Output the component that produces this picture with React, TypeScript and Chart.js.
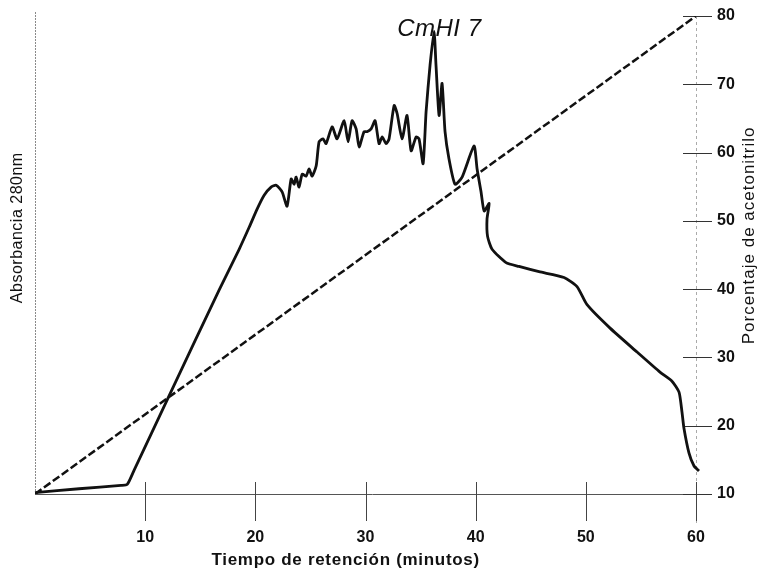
import React, { useEffect, useRef } from 'react';
import { Chart, registerables } from 'chart.js';

Chart.register(...registerables);

const TITLE = 'CmHI 7';
const X_TITLE = 'Tiempo de retención (minutos)';
const Y_LEFT_TITLE = 'Absorbancia 280nm';
const Y_RIGHT_TITLE = 'Porcentaje de acetonitrilo';

const X_TICKS = [10, 20, 30, 40, 50, 60];
const PCT_TICKS = [10, 20, 30, 40, 50, 60, 70, 80];

// Chromatogram (absorbance, arbitrary units 0..1)
const TIME = [
  0, 4.0, 7.8, 8.37, 9.0, 12.18, 16.72, 18.53, 19.44, 20.16, 20.8, 21.43, 21.89, 22.43, 22.88,
  23.25, 23.52, 23.7, 23.97, 24.25, 24.61, 24.88, 25.15, 25.52, 25.79, 26.15, 26.42,
  26.97, 27.42, 28.06, 28.42, 28.78, 29.15, 29.42, 29.87, 30.14, 30.51, 30.87, 31.23,
  31.51, 31.87, 32.14, 32.6, 32.87, 33.32, 33.77, 34.14, 34.59, 34.86, 35.23, 35.5,
  35.86, 36.22, 36.4, 36.68, 36.95, 37.22, 37.58, 38.13, 38.77, 39.85, 40.13, 40.49,
  40.77, 41.22, 41.03, 41.08, 41.49, 42.76, 43.93, 45.75, 48.02, 49.2, 50.11, 52.2,
  54.65, 56.73, 57.82, 58.46, 58.73, 58.91, 59.36, 59.81, 60.27,
];
const ABSORBANCE = [
  0.003, 0.011, 0.018, 0.02, 0.05, 0.206, 0.427, 0.512, 0.558, 0.596, 0.625, 0.642, 0.646, 0.632, 0.602,
  0.659, 0.648, 0.663, 0.642, 0.669, 0.665, 0.68, 0.665, 0.686, 0.737, 0.743, 0.733,
  0.768, 0.743, 0.781, 0.737, 0.781, 0.764, 0.726, 0.758, 0.758, 0.764, 0.781, 0.733,
  0.747, 0.733, 0.743, 0.813, 0.796, 0.743, 0.792, 0.718, 0.747, 0.743, 0.691, 0.8,
  0.897, 0.968, 0.897, 0.792, 0.859, 0.758, 0.701, 0.648, 0.663, 0.728, 0.68, 0.632,
  0.592, 0.608, 0.575, 0.539, 0.512, 0.484, 0.476, 0.465, 0.453, 0.434, 0.396, 0.347,
  0.297, 0.255, 0.236, 0.213, 0.171, 0.137, 0.086, 0.059, 0.048,
];

// Acetonitrile gradient (%)
const GRADIENT_TIME = [0, 60];
const GRADIENT_PCT = [10, 80];

const TITLE_TIME = 36.7;
const FONT = '"Liberation Sans", Arial, Helvetica, sans-serif';

export default function App() {
  const canvasRef = useRef<HTMLCanvasElement>(null);

  useEffect(() => {
    if (!canvasRef.current) return;

    const decor = {
      id: 'decor',
      beforeDatasetsDraw(chart: any) {
        const { ctx, chartArea } = chart;
        const x = chart.scales.x;
        const y1 = chart.scales.y1;
        ctx.save();
        ctx.lineWidth = 1;
        // left axis line
        ctx.strokeStyle = '#8a8a8a';
        ctx.setLineDash([2, 1]);
        ctx.beginPath();
        ctx.moveTo(Math.round(chartArea.left) + 0.5, chartArea.top - 4);
        ctx.lineTo(Math.round(chartArea.left) + 0.5, chartArea.bottom);
        ctx.stroke();
        // right axis line
        ctx.strokeStyle = '#aaaaaa';
        ctx.setLineDash([3, 3]);
        ctx.beginPath();
        ctx.moveTo(Math.round(chartArea.right) + 0.5, chartArea.top);
        ctx.lineTo(Math.round(chartArea.right) + 0.5, chartArea.bottom + 29);
        ctx.stroke();
        // bottom axis line
        ctx.setLineDash([]);
        ctx.strokeStyle = '#555555';
        ctx.beginPath();
        ctx.moveTo(chartArea.left, Math.round(chartArea.bottom) + 0.5);
        ctx.lineTo(chartArea.right + 14, Math.round(chartArea.bottom) + 0.5);
        ctx.stroke();
        // x tick marks crossing the axis
        ctx.strokeStyle = '#444444';
        X_TICKS.forEach((v) => {
          const px = Math.round(x.getPixelForValue(v)) + 0.5;
          ctx.beginPath();
          ctx.moveTo(px, chartArea.bottom - 12);
          ctx.lineTo(px, chartArea.bottom + 27);
          ctx.stroke();
        });
        // right tick marks crossing the axis
        ctx.strokeStyle = '#333333';
        PCT_TICKS.forEach((v) => {
          const py = Math.round(y1.getPixelForValue(v)) + 0.5;
          ctx.beginPath();
          ctx.moveTo(chartArea.right - 13, py);
          ctx.lineTo(chartArea.right + 16, py);
          ctx.stroke();
        });
        ctx.restore();
      },
      afterDraw(chart: any) {
        const { ctx, chartArea } = chart;
        const x = chart.scales.x;
        const h = chartArea.bottom - chartArea.top;
        const w = chartArea.right - chartArea.left;
        ctx.save();
        ctx.fillStyle = '#111111';
        ctx.textAlign = 'center';
        ctx.textBaseline = 'middle';
        // peak title
        ctx.font = `italic 24px ${FONT}`;
        (ctx as any).letterSpacing = '0.5px';
        ctx.fillText(TITLE, x.getPixelForValue(TITLE_TIME), chartArea.top + 13);
        // x title
        ctx.font = `bold 17px ${FONT}`;
        (ctx as any).letterSpacing = '0.7px';
        ctx.fillText(X_TITLE, chartArea.left + w * 0.47, chart.height - 10);
        // left title
        ctx.font = `16px ${FONT}`;
        (ctx as any).letterSpacing = '0.5px';
        ctx.save();
        ctx.translate(18, chartArea.top + h * 0.443);
        ctx.rotate(-Math.PI / 2);
        ctx.fillText(Y_LEFT_TITLE, 0, 0);
        ctx.restore();
        // right title
        ctx.font = `17px ${FONT}`;
        (ctx as any).letterSpacing = '1px';
        ctx.save();
        ctx.translate(chart.width - 9, chartArea.top + h * 0.459);
        ctx.rotate(-Math.PI / 2);
        ctx.fillText(Y_RIGHT_TITLE, 0, 0);
        ctx.restore();
        ctx.restore();
      },
    };

    const chart = new Chart(canvasRef.current, {
      type: 'line',
      data: {
        datasets: [
          {
            label: 'Absorbancia 280nm',
            data: TIME.map((t, i) => ({ x: t, y: ABSORBANCE[i] })),
            yAxisID: 'y',
            borderColor: '#111111',
            borderWidth: 2.8,
            tension: 0.2,
            pointRadius: 0,
            fill: false,
            clip: false as any,
          },
          {
            label: 'Porcentaje de acetonitrilo',
            data: GRADIENT_TIME.map((t, i) => ({ x: t, y: GRADIENT_PCT[i] })),
            yAxisID: 'y1',
            borderColor: '#111111',
            borderWidth: 2.5,
            borderDash: [8, 3],
            pointRadius: 0,
            fill: false,
          },
        ],
      },
      options: {
        animation: false,
        responsive: true,
        maintainAspectRatio: false,
        devicePixelRatio: 1,
        layout: { padding: { left: 35, top: 16, right: 0, bottom: 0 } },
        plugins: {
          legend: { display: false },
          tooltip: { enabled: false },
          title: { display: false },
        },
        scales: {
          x: {
            type: 'linear',
            position: 'bottom',
            min: 0,
            max: 60,
            afterBuildTicks: (s: any) => {
              s.ticks = X_TICKS.map((v) => ({ value: v }));
            },
            afterFit: (s: any) => {
              s.height = 76;
              s.paddingLeft = 0;
              s.paddingRight = 0;
            },
            grid: { display: false, drawTicks: false },
            border: { display: false },
            ticks: {
              autoSkip: false,
              maxRotation: 0,
              padding: 34,
              color: '#111111',
              font: { family: FONT, size: 16, weight: 'bold' },
            },
          },
          y: {
            type: 'linear',
            display: false,
            min: 0,
            max: 1,
          },
          y1: {
            type: 'linear',
            position: 'right',
            min: 10,
            max: 80,
            afterBuildTicks: (s: any) => {
              s.ticks = PCT_TICKS.map((v) => ({ value: v }));
            },
            afterFit: (s: any) => {
              s.width = 62;
              s.paddingTop = 0;
              s.paddingBottom = 0;
            },
            grid: { display: false, drawTicks: false },
            border: { display: false },
            ticks: {
              padding: 21,
              color: '#111111',
              font: { family: FONT, size: 16, weight: 'bold' },
            },
          },
        },
      },
      plugins: [decor],
    } as any);

    return () => chart.destroy();
  }, []);

  return (
    <div style={{ position: 'fixed', left: 0, top: 0, width: 758, height: 570, background: '#ffffff' }}>
      <canvas ref={canvasRef} />
    </div>
  );
}
